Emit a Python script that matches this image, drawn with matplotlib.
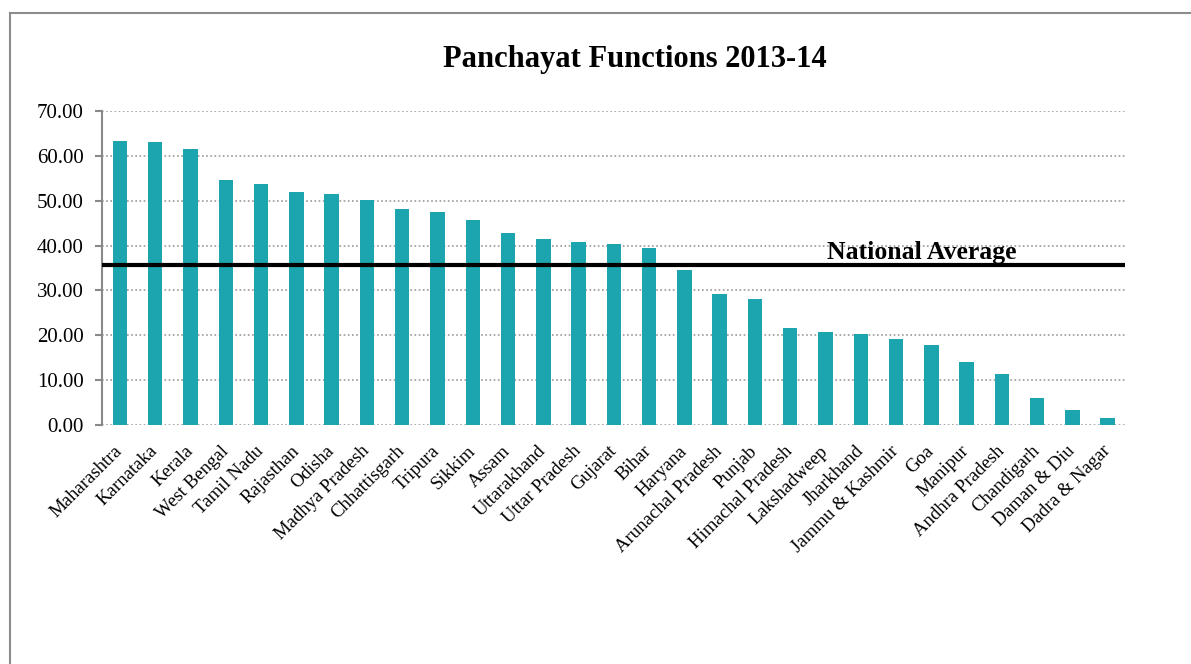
import matplotlib
matplotlib.use("Agg")
import matplotlib.pyplot as plt
from matplotlib.lines import Line2D

states = ["Maharashtra", "Karnataka", "Kerala", "West Bengal", "Tamil Nadu",
          "Rajasthan", "Odisha", "Madhya Pradesh", "Chhattisgarh", "Tripura",
          "Sikkim", "Assam", "Uttarakhand", "Uttar Pradesh", "Gujarat", "Bihar",
          "Haryana", "Arunachal Pradesh", "Punjab", "Himachal Pradesh",
          "Lakshadweep", "Jharkhand", "Jammu & Kashmir", "Goa", "Manipur",
          "Andhra Pradesh", "Chandigarh", "Daman & Diu", "Dadra & Nagar"]
scores = [63.3, 63.1, 61.6, 54.7, 53.7, 52.0, 51.4, 50.2, 48.2, 47.4,
          45.7, 42.8, 41.5, 40.9, 40.3, 39.5, 34.5, 29.1, 28.0, 21.6,
          20.7, 20.3, 19.2, 17.8, 14.1, 11.4, 6.0, 3.3, 1.6]
national_avg = 35.6
yticks = [0, 10, 20, 30, 40, 50, 60, 70]

plt.rcParams["font.family"] = ["Liberation Serif", "DejaVu Serif"]

fig = plt.figure(figsize=(11.91, 6.64), dpi=100)
ax = fig.add_axes([102 / 1191, 1 - 425 / 664, 1023 / 1191, 314 / 664])

x = range(len(states))
ax.bar(x, scores, width=0.41, color="#1ca5ae", zorder=3)
ax.axhline(national_avg, color="black", lw=3, zorder=4)
ax.text(20.05, national_avg + 1.4, "National Average", fontsize=18.5,
        fontweight="bold", ha="left", va="baseline", zorder=5)

ax.set_xlim(-0.51, len(states) - 0.51)
ax.set_ylim(0, 70)
ax.set_yticks(yticks)
ax.set_yticklabels([f"{v:.2f}" for v in yticks], fontsize=15)
ax.set_xticks(list(x))
ax.set_xticklabels(states, fontsize=13.5, rotation=45, ha="right",
                   va="center", rotation_mode="anchor")
ax.tick_params(axis="x", length=0, pad=17)
ax.tick_params(axis="y", length=5, width=1.5, color="#898989", pad=8,
               direction="out")
ax.grid(axis="y", color="#999999", lw=1.2, ls=(0, (1, 1.5)), zorder=0)
ax.set_axisbelow(True)
for s in ["top", "right", "bottom"]:
    ax.spines[s].set_visible(False)
ax.spines["left"].set_color("#898989")
ax.spines["left"].set_linewidth(1.5)

fig.text(0.533, 1 - 67 / 664, "Panchayat Functions 2013-14", fontsize=22,
         fontweight="bold", ha="center", va="baseline")

# outer chart frame
fig.add_artist(Line2D([10 / 1191, 1.0], [1 - 13 / 664] * 2, color="#8c8c8c",
                      lw=1.5, transform=fig.transFigure))
fig.add_artist(Line2D([10 / 1191] * 2, [0.0, 1 - 13 / 664], color="#8c8c8c",
                      lw=1.5, transform=fig.transFigure))

plt.savefig("out.png", dpi=100)
